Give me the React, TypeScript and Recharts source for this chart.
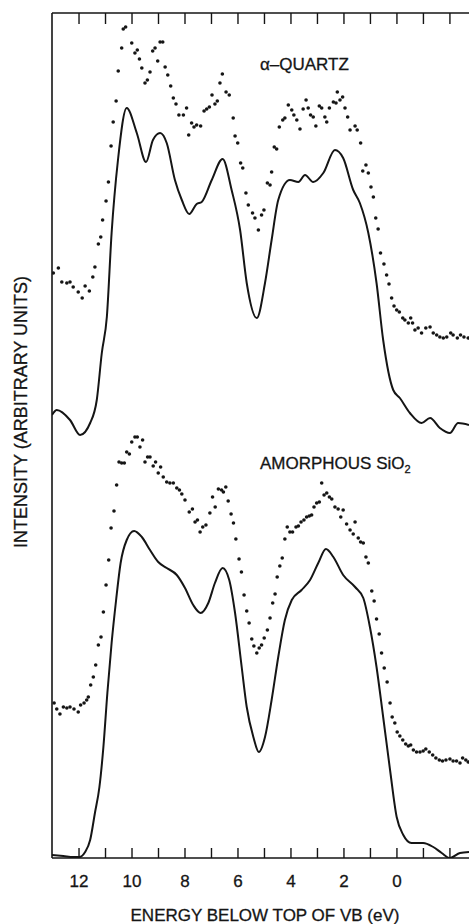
import { ComposedChart, Line, Scatter, XAxis, YAxis, Customized } from "recharts";

// energy below top of VB (eV), intensity (arbitrary units)
const quartzCalc: [number, number][] = [
  [13.02, 443], [12.84, 448], [12.34, 438], [11.96, 423], [11.58, 435], [11.33, 458],
  [11.14, 505], [10.95, 541], [10.77, 625], [10.53, 698], [10.2, 750], [9.82, 725],
  [9.47, 696], [9.21, 718], [8.94, 725], [8.69, 715], [8.38, 678], [8.12, 658],
  [7.84, 644], [7.56, 654], [7.37, 656], [6.99, 678], [6.58, 699], [6.24, 668],
  [5.92, 628], [5.67, 575], [5.29, 540], [4.98, 575], [4.73, 618], [4.48, 658],
  [4.04, 678], [3.72, 676], [3.47, 683], [3.16, 676], [2.78, 685], [2.34, 708],
  [2.03, 700], [1.65, 668], [1.4, 655], [1.08, 625], [0.77, 575], [0.52, 518],
  [0.14, 468], [-0.11, 460], [-0.49, 445], [-0.93, 435], [-1.25, 440], [-1.62, 430],
  [-2.0, 425], [-2.31, 435], [-2.72, 433],
];

const quartzXps: [number, number][] = [
  [12.97, 585], [12.78, 590], [12.65, 576], [12.46, 575], [12.34, 576], [12.22, 571],
  [12.03, 566], [11.88, 560], [11.77, 572], [11.61, 567], [11.48, 581], [11.4, 591],
  [11.27, 614], [11.18, 621], [11.11, 638], [10.98, 657], [10.89, 676], [10.79, 712],
  [10.71, 736], [10.6, 757], [10.52, 787], [10.39, 810], [10.33, 829], [10.24, 831],
  [10.01, 815], [9.89, 805], [9.8, 808], [9.72, 799], [9.63, 790], [9.51, 775],
  [9.42, 778], [9.32, 786], [9.22, 807], [9.13, 810], [9.03, 797], [8.94, 816],
  [8.84, 816], [8.75, 791], [8.65, 783], [8.54, 772], [8.44, 760], [8.34, 754],
  [8.23, 743], [8.06, 743], [7.94, 750], [7.86, 723], [7.75, 735], [7.66, 731],
  [7.56, 733], [7.41, 732], [7.28, 747], [7.18, 749], [7.08, 751], [6.98, 763],
  [6.87, 754], [6.78, 757], [6.68, 775], [6.59, 784], [6.45, 766], [6.33, 763],
  [6.18, 740], [6.11, 722], [6.01, 715], [5.9, 695], [5.82, 690], [5.7, 665],
  [5.61, 653], [5.45, 645], [5.36, 640], [5.23, 628], [5.11, 643], [5.02, 648],
  [4.89, 675], [4.79, 673], [4.73, 686], [4.63, 711], [4.54, 709], [4.44, 731],
  [4.31, 738], [4.23, 740], [4.1, 753], [3.97, 748], [3.89, 743], [3.78, 738],
  [3.66, 729], [3.54, 749], [3.43, 758], [3.35, 750], [3.26, 743], [3.16, 741],
  [3.06, 732], [2.93, 752], [2.84, 750], [2.72, 741], [2.65, 736], [2.55, 750],
  [2.4, 756], [2.3, 755], [2.25, 766], [2.15, 758], [2.05, 761], [1.96, 750],
  [1.86, 741], [1.77, 728], [1.58, 732], [1.5, 728], [1.37, 715], [1.29, 687],
  [1.17, 693], [1.08, 685], [0.98, 671], [0.89, 661], [0.8, 640], [0.71, 629],
  [0.62, 605], [0.49, 594], [0.39, 583], [0.3, 574], [0.2, 560], [0.11, 552],
  [0.01, 548], [-0.09, 546], [-0.22, 540], [-0.3, 538], [-0.43, 535], [-0.52, 540],
  [-0.59, 535], [-0.68, 528], [-0.8, 530], [-0.93, 525], [-1.09, 530], [-1.25, 531],
  [-1.37, 525], [-1.5, 523], [-1.62, 521], [-1.75, 520], [-1.88, 521], [-2.03, 525],
  [-2.12, 523], [-2.28, 520], [-2.4, 523], [-2.53, 521], [-2.69, 520],
];

const amorphousCalc: [number, number][] = [
  [13.02, 3], [12.59, 2], [12.22, 1], [11.99, 1], [11.77, 6], [11.58, 18],
  [11.4, 45], [11.23, 71], [11.08, 111], [10.93, 165], [10.77, 215], [10.6, 258],
  [10.43, 295], [10.2, 318], [9.92, 327], [9.63, 321], [9.32, 308], [9.01, 296],
  [8.69, 290], [8.31, 283], [8.0, 270], [7.69, 253], [7.41, 245], [7.12, 255],
  [6.87, 275], [6.58, 290], [6.33, 278], [6.11, 245], [5.86, 191], [5.67, 151],
  [5.42, 121], [5.21, 106], [4.98, 121], [4.73, 158], [4.48, 201], [4.23, 238],
  [3.97, 258], [3.6, 268], [3.28, 278], [2.97, 295], [2.68, 309], [2.4, 301],
  [2.03, 283], [1.58, 271], [1.27, 260], [1.02, 231], [0.77, 191], [0.52, 141],
  [0.26, 88], [0.01, 41], [-0.24, 23], [-0.55, 15], [-0.99, 15], [-1.37, 11],
  [-1.69, 5], [-2.0, 0], [-2.38, 5], [-2.72, 6],
];

const amorphousXps: [number, number][] = [
  [12.94, 155], [12.84, 149], [12.72, 144], [12.59, 151], [12.46, 150], [12.34, 151],
  [12.19, 149], [12.03, 146], [11.94, 153], [11.81, 155], [11.71, 158], [11.65, 161],
  [11.56, 173], [11.46, 181], [11.37, 193], [11.27, 213], [11.17, 221], [11.08, 246],
  [10.98, 273], [10.88, 298], [10.79, 330], [10.68, 347], [10.58, 373], [10.49, 396],
  [10.39, 395], [10.29, 395], [10.2, 406], [10.1, 404], [10.01, 416], [9.89, 421],
  [9.8, 421], [9.7, 411], [9.6, 418], [9.51, 396], [9.41, 401], [9.32, 401],
  [9.2, 392], [9.11, 396], [9.01, 385], [8.92, 391], [8.82, 381], [8.69, 376],
  [8.57, 375], [8.44, 375], [8.31, 370], [8.21, 368], [8.12, 364], [8.0, 358],
  [7.84, 346], [7.72, 349], [7.62, 336], [7.53, 338], [7.43, 326], [7.33, 331],
  [7.21, 333], [7.06, 345], [6.96, 361], [6.86, 351], [6.74, 369], [6.62, 368],
  [6.55, 366], [6.46, 371], [6.37, 357], [6.26, 344], [6.17, 335], [6.08, 319],
  [5.96, 299], [5.87, 286], [5.77, 263], [5.67, 247], [5.58, 235], [5.48, 219],
  [5.4, 212], [5.29, 205], [5.2, 210], [5.11, 213], [5.01, 220], [4.89, 228],
  [4.79, 240], [4.69, 255], [4.6, 264], [4.52, 281], [4.42, 292], [4.33, 300],
  [4.23, 319], [4.14, 331], [4.04, 326], [3.94, 326], [3.81, 331], [3.72, 332],
  [3.62, 336], [3.51, 338], [3.41, 341], [3.31, 342], [3.22, 343], [3.13, 351],
  [3.03, 355], [2.93, 356], [2.84, 375], [2.75, 363], [2.65, 365], [2.55, 361],
  [2.46, 359], [2.34, 351], [2.22, 349], [2.12, 341], [2.03, 348], [1.9, 334],
  [1.77, 328], [1.65, 324], [1.58, 336], [1.46, 320], [1.37, 316], [1.27, 315],
  [1.17, 301], [1.08, 295], [0.95, 267], [0.86, 257], [0.77, 239], [0.67, 224],
  [0.58, 205], [0.48, 190], [0.37, 176], [0.26, 155], [0.18, 141], [0.08, 135],
  [-0.01, 126], [-0.11, 122], [-0.22, 118], [-0.33, 114], [-0.43, 112], [-0.52, 113],
  [-0.62, 108], [-0.74, 106], [-0.87, 106], [-0.99, 107], [-1.09, 109], [-1.22, 106],
  [-1.35, 103], [-1.47, 100], [-1.6, 98], [-1.72, 97], [-1.85, 98], [-2.0, 99],
  [-2.12, 97], [-2.25, 97], [-2.38, 95], [-2.48, 100], [-2.6, 98], [-2.69, 96],
];

const xTicks = [12, 11, 10, 9, 8, 7, 6, 5, 4, 3, 2, 1, 0, -1, -2];
const xTickLabels = [12, 10, 8, 6, 4, 2, 0];
const xDomain: [number, number] = [-2.72, 13.02];
const yDomain: [number, number] = [0, 845];

const toPts = (arr: [number, number][]) => arr.map(([e, i]) => ({ e, i }));

const FONT = "'Liberation Sans', Arial, Helvetica, sans-serif";
const INK = "#151515";

const BottomTick = (props: any) => {
  const { x, y, payload } = props;
  const v = payload.value;
  return (
    <g>
      <line x1={x} y1={y} x2={x} y2={y - 10} stroke={INK} strokeWidth={1.4} />
      {xTickLabels.includes(v) && (
        <text x={x} y={y + 29} textAnchor="middle" fontSize={17} fontFamily={FONT}
          fill={INK} stroke={INK} strokeWidth={0.3}>
          {v}
        </text>
      )}
    </g>
  );
};

const TopTick = (props: any) => {
  const { x, y } = props;
  return <line x1={x} y1={y} x2={x} y2={y + 11} stroke={INK} strokeWidth={1.4} />;
};

const Dot = (props: any) => <circle cx={props.cx} cy={props.cy} r={1.8} fill={INK} />;

const Annotations = () => (
  <g fontFamily={FONT} fill={INK} stroke={INK} strokeWidth={0.3}>
    <text x={260} y={70} fontSize={17}>α–QUARTZ</text>
    <text x={260} y={469} fontSize={17}>
      AMORPHOUS SiO<tspan fontSize={11} dy={4}>2</tspan>
    </text>
    <text x={265} y={921} fontSize={17} textAnchor="middle">ENERGY BELOW TOP OF VB (eV)</text>
    <text transform="translate(27,412) rotate(-90)" fontSize={18} textAnchor="middle">
      INTENSITY (ARBITRARY UNITS)
    </text>
  </g>
);

export default function App() {
  return (
    <div style={{ position: "absolute", left: 0, top: 0, background: "#fff" }}>
      <ComposedChart width={469} height={924} margin={{ top: 0, right: 0, bottom: 0, left: 0 }}>
        <XAxis
          xAxisId="bottom"
          dataKey="e"
          type="number"
          orientation="bottom"
          domain={xDomain}
          allowDataOverflow
          reversed
          ticks={xTicks}
          interval={0}
          height={66}
          tickSize={0}
          tickMargin={0}
          tickLine={false}
          tick={<BottomTick />}
          axisLine={{ stroke: INK, strokeWidth: 1.6 }}
        />
        <XAxis
          xAxisId="top"
          dataKey="e"
          type="number"
          orientation="top"
          domain={xDomain}
          allowDataOverflow
          reversed
          ticks={xTicks}
          interval={0}
          height={13}
          tickSize={0}
          tickMargin={0}
          tickLine={false}
          tick={<TopTick />}
          axisLine={{ stroke: INK, strokeWidth: 1.6 }}
        />
        <YAxis
          type="number"
          dataKey="i"
          domain={yDomain}
          allowDataOverflow
          width={52}
          tick={false}
          tickLine={false}
          axisLine={{ stroke: INK, strokeWidth: 1.6 }}
        />
        <Scatter
          xAxisId="top"
          data={toPts(quartzXps)}
          dataKey="i"
          shape={<Dot />}
          isAnimationActive={false}
        />
        <Line
          xAxisId="top"
          data={toPts(quartzCalc)}
          dataKey="i"
          type="monotone"
          stroke={INK}
          strokeWidth={2}
          dot={false}
          activeDot={false}
          isAnimationActive={false}
        />
        <Scatter
          xAxisId="bottom"
          data={toPts(amorphousXps)}
          dataKey="i"
          shape={<Dot />}
          isAnimationActive={false}
        />
        <Line
          xAxisId="bottom"
          data={toPts(amorphousCalc)}
          dataKey="i"
          type="monotone"
          stroke={INK}
          strokeWidth={2}
          dot={false}
          activeDot={false}
          isAnimationActive={false}
        />
        <Customized component={Annotations} />
      </ComposedChart>
    </div>
  );
}
